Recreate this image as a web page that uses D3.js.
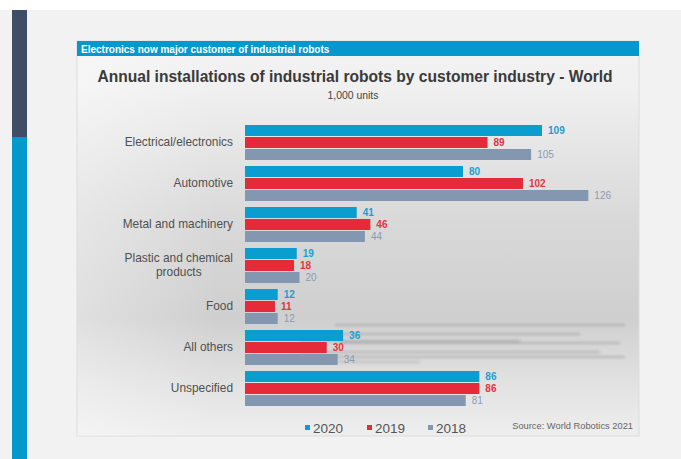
<!DOCTYPE html>
<html><head><meta charset="utf-8">
<script src="https://cdn.jsdelivr.net/npm/d3@7"></script>
<style>html,body{margin:0;padding:0;background:#fff;overflow:hidden}svg{display:block}</style>
</head><body>
<script>
const categories = ["Electrical/electronics","Automotive","Metal and machinery","Plastic and chemical products","Food","All others","Unspecified"];
const series = ["2020","2019","2018"];
const values2020 = [109, 80, 41, 19, 12, 36, 86];
const values2019 = [89, 102, 46, 18, 11, 30, 86];
const values2018 = [105, 126, 44, 20, 12, 34, 81];
const colors = ["#0a9dd0","#e52a3a","#8497b0"];
const labelColors = ["#1a9fd2","#e53342","#8a9bb5"];

const W = 681, H = 459;
const FONT = "Liberation Sans, Arial, sans-serif";
const svg = d3.select("body").append("svg").attr("width", W).attr("height", H);
const defs = svg.append("defs");
const g1 = defs.append("linearGradient").attr("id","cardg").attr("x1",0).attr("y1",0).attr("x2",0).attr("y2",1);
[[0,"#f3f3f3"],[0.12,"#f0f0f0"],[0.45,"#d9d9d9"],[0.7,"#cfcfcf"],[0.88,"#e3e3e3"],[1,"#eeeeee"]].forEach(s=>g1.append("stop").attr("offset",s[0]).attr("stop-color",s[1]));
const g2 = defs.append("linearGradient").attr("id","sideg").attr("x1",0).attr("y1",0).attr("x2",1).attr("y2",0);
[[0,"#ffffff",0.35],[0.25,"#ffffff",0],[1,"#ffffff",0]].forEach(s=>g2.append("stop").attr("offset",s[0]).attr("stop-color",s[1]).attr("stop-opacity",s[2]));
defs.append("filter").attr("id","blur").attr("x","-10%").attr("y","-200%").attr("width","120%").attr("height","500%")
  .append("feGaussianBlur").attr("stdDeviation","1.8");

// page background
svg.append("rect").attr("x",0).attr("y",10).attr("width",W).attr("height",H-10).attr("fill","#f2f2f2");
svg.append("rect").attr("x",12).attr("y",10).attr("width",15).attr("height",127).attr("fill","#3f4e66");
svg.append("rect").attr("x",12).attr("y",137).attr("width",15).attr("height",H-137).attr("fill","#0399cc");

// card
const cx0 = 77, cx1 = 639, cy0 = 41, cy1 = 436;
svg.append("rect").attr("x",cx0).attr("y",cy0).attr("width",cx1-cx0).attr("height",cy1-cy0)
  .attr("fill","url(#cardg)").attr("stroke","#dcdcdc").attr("stroke-width",1);
svg.append("rect").attr("x",cx0+0.5).attr("y",cy0+15).attr("width",cx1-cx0-1).attr("height",cy1-cy0-15).attr("fill","url(#sideg)");
svg.append("rect").attr("x",cx0).attr("y",cy0).attr("width",cx1-cx0).attr("height",15).attr("fill","#0399cc");
svg.append("text").attr("x",81).attr("y",52.5).attr("fill","#fff").attr("font-family",FONT)
  .attr("font-weight","bold").attr("font-size",10).text("Electronics now major customer of industrial robots");

svg.append("text").attr("x",355).attr("y",82).attr("text-anchor","middle").attr("fill","#3a3a3a")
  .attr("font-family",FONT).attr("font-weight","bold").attr("font-size",15.6)
  .text("Annual installations of industrial robots by customer industry - World");
svg.append("text").attr("x",353).attr("y",99).attr("text-anchor","middle").attr("fill","#444")
  .attr("font-family",FONT).attr("font-size",10.4).text("1,000 units");

// decorative blurred reflection streaks
const streaks = [[335,625,325,2.2],[340,580,334,1.8],[300,520,341,2],[340,620,343,1.8],[300,600,352,2.2],[300,625,357,1.8],[330,420,362,1.5]];
const sg = svg.append("g").attr("filter","url(#blur)").attr("opacity",0.6);
streaks.forEach(s=>sg.append("line").attr("x1",s[0]).attr("x2",s[1]).attr("y1",s[2]).attr("y2",s[2]).attr("stroke","#999").attr("stroke-width",s[3]));

// scales
const x = d3.scaleLinear().domain([0,130]).range([245, 245 + 130*2.725]);
const y = d3.scaleBand().domain(categories).range([122, 122 + 7*41]).paddingInner(6/41).paddingOuter(3/41);
const ys = d3.scaleBand().domain(series).range([0, y.bandwidth()]).paddingInner(1/12).paddingOuter(0);

const data = [values2020, values2019, values2018];
const rows = categories.map((c,i)=>({cat:c, vals: series.map((s,j)=>({s, j, v:data[j][i]}))}));

const gr = svg.append("g").selectAll("g").data(rows).join("g").attr("transform",d=>`translate(0,${y(d.cat)})`);
gr.selectAll("rect").data(d=>d.vals).join("rect")
  .attr("x",x(0)).attr("y",d=>ys(d.s)).attr("width",d=>x(d.v)-x(0)).attr("height",ys.bandwidth())
  .attr("fill",d=>colors[d.j]);
gr.selectAll("text.v").data(d=>d.vals).join("text").attr("class","v")
  .attr("x",d=>x(d.v)+6).attr("y",d=>ys(d.s)+ys.bandwidth()/2+3.6)
  .attr("fill",d=>labelColors[d.j]).attr("font-family",FONT)
  .attr("font-size",10).attr("font-weight",d=>d.j<2?"bold":"normal").text(d=>d.v);

// category labels (axis)
const axis = d3.axisLeft(y).tickSize(0).tickPadding(0);
const ag = svg.append("g").attr("transform","translate(233,0)").call(axis);
ag.select(".domain").remove();
ag.selectAll("text").attr("fill","#505050").attr("font-family",FONT).attr("font-size",11.9)
  .each(function(d){
    const t = d3.select(this);
    if (d === "Plastic and chemical products") {
      t.text(null);
      const a = t.append("tspan").attr("x",0).attr("dy","-0.28em").text("Plastic and chemical");
      const w = a.node().getComputedTextLength();
      t.attr("text-anchor","middle");
      a.attr("x",-w/2);
      t.append("tspan").attr("x",-w/2).attr("dy","1.2em").text("products");
    }
  });

// legend
const legX = [305, 367, 428];
const lg = svg.append("g").selectAll("g").data(series).join("g").attr("transform",(d,i)=>`translate(${legX[i]},428)`);
lg.append("rect").attr("x",0).attr("y",-3).attr("width",5).attr("height",5).attr("fill",(d,i)=>colors[i]);
lg.append("text").attr("x",8).attr("y",5).attr("fill","#555").attr("font-family",FONT)
  .attr("font-size",13.5).text(d=>d);

svg.append("text").attr("x",633).attr("y",429).attr("text-anchor","end").attr("fill","#666")
  .attr("font-family",FONT).attr("font-size",9.3).text("Source: World Robotics 2021");
</script>
</body></html>
